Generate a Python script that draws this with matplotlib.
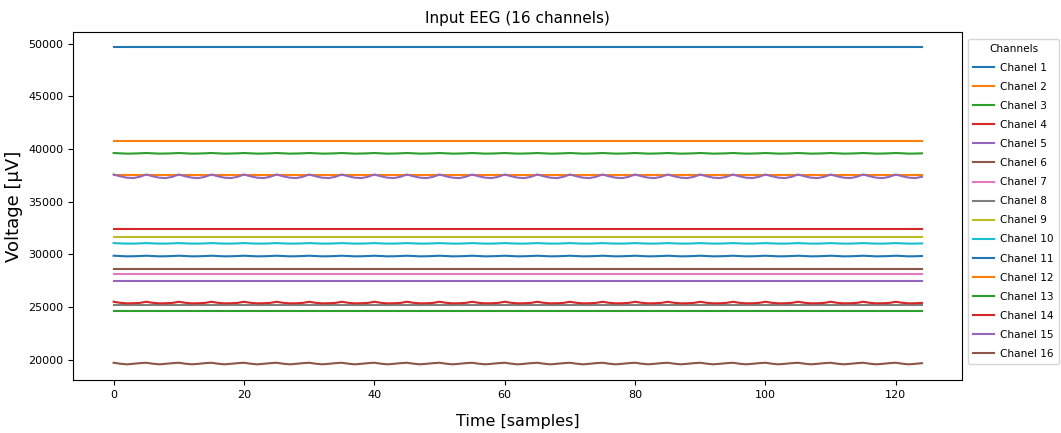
"""Recreate the 16-channel input EEG plot."""

import numpy as np
import matplotlib
matplotlib.use("Agg")
import matplotlib.pyplot as plt

N_SAMPLES = 125

channel_names = [f"Chanel {i}" for i in range(1, 17)]

# baseline level of each channel in µV
baselines = [49650, 40750, 39600, 32450, 27500, 28650, 28100, 25200,
             31650, 31050, 29850, 37550, 24600, 25400, 37400, 19650]

# one 5-sample ripple cycle per channel (µV offsets), repeats along the trace
ripples = [
    [0, 0, 0, 0, 0],
    [0, 0, 0, 0, 0],
    [30, 0, -30, -20, 0],
    [0, 0, 0, 0, 0],
    [0, 0, 0, 0, 0],
    [0, 0, 0, 0, 0],
    [0, 0, 0, 0, 0],
    [0, 0, 0, 0, 0],
    [0, 0, 0, 0, 0],
    [30, 0, -20, -20, 0],
    [30, 0, -30, -20, 0],
    [0, 0, 0, 0, 0],
    [0, 0, 0, 0, 0],
    [110, 10, -40, -30, 0],
    [190, 20, -110, -150, -30],
    [70, -20, -80, -30, 30],
]

time = np.arange(N_SAMPLES)

fig, ax = plt.subplots(figsize=(10.61, 4.33), dpi=100)
fig.subplots_adjust(left=0.069, right=0.907, top=0.927, bottom=0.122)

for name, base, cycle in zip(channel_names, baselines, ripples):
    trace = base + np.tile(cycle, N_SAMPLES // len(cycle))
    ax.plot(time, trace, label=name, linewidth=1.5)

ax.set_title("Input EEG (16 channels)", fontsize=11)
ax.set_xlabel("Time [samples]", fontsize=11.5, labelpad=10)
ax.set_ylabel("Voltage [µV]", fontsize=13)
ax.yaxis.set_label_coords(-0.056, 0.5)
ax.tick_params(labelsize=8)

ax.legend(title="Channels", loc="upper left", bbox_to_anchor=(1.003, 0.988),
          fontsize=7.6, title_fontsize=7.6, handlelength=2.0,
          handletextpad=0.6, borderpad=0.45, labelspacing=0.86,
          borderaxespad=0.3)

fig.savefig("out.png", dpi=100)
